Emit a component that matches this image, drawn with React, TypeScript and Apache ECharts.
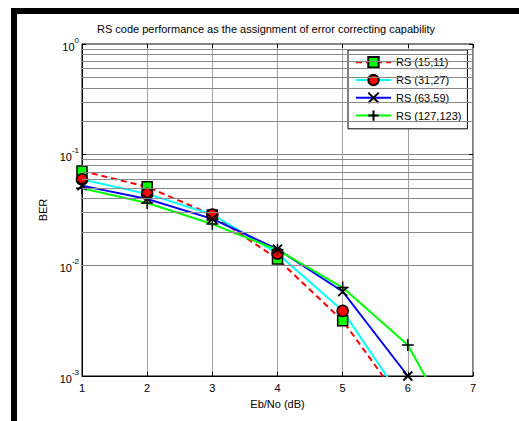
import React, { useEffect, useRef } from "react";
import * as echarts from "echarts";

const xValues = [1, 2, 3, 4, 5, 6, 7];
const seriesNames = ["RS (15,11)", "RS (31,27)", "RS (63,59)", "RS (127,123)"];
const rs15 = [0.0712, 0.0512, 0.0285, 0.0114, 0.00316, 0.00049];
const rs31 = [0.0598, 0.0442, 0.0288, 0.0128, 0.00388, 0.00052];
const rs63 = [0.0525, 0.0398, 0.0263, 0.0140, 0.0058, 0.0010, 0.0002];
const rs127 = [0.0497, 0.0366, 0.0236, 0.0138, 0.0063, 0.00191, 0.000163];
const yTickValues = [0.001, 0.01, 0.1, 1];
const minorMultipliers = [2, 3, 4, 5, 6, 7, 8, 9];

const FONT = "'Liberation Sans', Arial, Helvetica, sans-serif";

const pts = (ys: number[]) => ys.map((y, i) => [xValues[i], y]);

const minorGrid: { yAxis: number }[] = [];
yTickValues.slice(0, -1).forEach((d) => {
  minorMultipliers.forEach((m) => minorGrid.push({ yAxis: d * m }));
});

const X_SYMBOL = "path://M0,0L10,10M10,0L0,10";
const PLUS_SYMBOL = "path://M5,0L5,10M0,5L10,5";

export default function App() {
  const ref = useRef<HTMLDivElement>(null);
  useEffect(() => {
    if (!ref.current) return;
    const chart = echarts.init(ref.current, null, { renderer: "svg" });
    const yLabel = (v: number) => {
      const e = Math.round(Math.log10(v));
      return `{b|10}{s|${e}}`;
    };
    chart.setOption({
      animation: false,
      backgroundColor: "#fff",
      textStyle: { fontFamily: FONT },
      title: {
        text: "RS code performance as the assignment of error correcting capability",
        left: 97,
        top: 23,
        padding: 0,
        textStyle: { fontFamily: FONT, fontSize: 11, fontWeight: "normal", color: "#000" },
      },
      graphic: [
        { type: "rect", shape: { x: 11, y: 8, width: 6, height: 413 }, style: { fill: "#000" } },
        { type: "rect", shape: { x: 11, y: 8, width: 508, height: 6 }, style: { fill: "#000" } },
      ],
      legend: {
        data: seriesNames,
        orient: "vertical",
        left: 348,
        top: 50,
        padding: [6, 6, 7, 7],
        itemWidth: 35,
        itemHeight: 13,
        itemGap: 5.4,
        selectedMode: false,
        backgroundColor: "#fff",
        borderColor: "#000",
        borderWidth: 1,
        borderRadius: 0,
        textStyle: { fontFamily: FONT, fontSize: 11, color: "#000" },
      },
      grid: {
        left: 82,
        top: 44,
        right: 46,
        bottom: 45,
        show: true,
        borderColor: "#000",
        borderWidth: 1,
        backgroundColor: "#fff",
        containLabel: false,
      },
      xAxis: [
        {
          type: "value",
          min: 1,
          max: 7,
          interval: 1,
          name: "Eb/No (dB)",
          nameLocation: "middle",
          nameGap: 22,
          nameTextStyle: { fontFamily: FONT, fontSize: 11, color: "#000" },
          axisLine: { show: true, lineStyle: { color: "#000", width: 1 } },
          axisTick: { show: true, inside: true, length: 4, lineStyle: { color: "#000" } },
          axisLabel: { fontFamily: FONT, fontSize: 11, color: "#000", margin: 6 },
          splitLine: { show: true, lineStyle: { color: "#a0a0a0", width: 1 } },
        },
        {
          type: "value",
          position: "top",
          min: 1,
          max: 7,
          interval: 1,
          axisLine: { show: false },
          axisTick: { show: true, inside: true, length: 4, lineStyle: { color: "#000" } },
          axisLabel: { show: false },
          splitLine: { show: false },
        },
      ],
      yAxis: [
        {
          type: "log",
          logBase: 10,
          min: 0.001,
          max: 1,
          name: "BER",
          nameLocation: "middle",
          nameGap: 27,
          nameTextStyle: { fontFamily: FONT, fontSize: 11, color: "#000" },
          axisLine: { show: true, lineStyle: { color: "#000", width: 1 } },
          axisTick: { show: true, inside: true, length: 4, lineStyle: { color: "#000" } },
          axisLabel: {
            margin: 3,
            formatter: yLabel,
            rich: {
              b: { fontFamily: FONT, fontSize: 11, color: "#000", padding: [5, 0, 0, 0], verticalAlign: "bottom" },
              s: { fontFamily: FONT, fontSize: 8, color: "#000", lineHeight: 8, verticalAlign: "top" },
            },
          },
          splitLine: { show: true, lineStyle: { color: "#888", width: 1 } },
        },
        {
          type: "log",
          logBase: 10,
          min: 0.001,
          max: 1,
          position: "right",
          axisLine: { show: false },
          axisTick: { show: true, inside: true, length: 4, lineStyle: { color: "#000" } },
          axisLabel: { show: false },
          splitLine: { show: false },
        },
      ],
      series: [
        {
          name: "minor-grid",
          type: "line",
          data: [],
          z: 1,
          silent: true,
          markLine: {
            silent: true,
            symbol: ["none", "none"],
            label: { show: false },
            emphasis: { disabled: true },
            lineStyle: { type: "solid", color: "#888", width: 1 },
            data: minorGrid,
          },
        },
        {
          name: seriesNames[0],
          type: "line",
          data: pts(rs15),
          z: 2,
          emphasis: { disabled: true },
          lineStyle: { color: "#ff0000", width: 2, type: [6, 4] },
          symbol: "rect",
          symbolSize: 10,
          itemStyle: { color: "#00ff00", borderColor: "#000", borderWidth: 1.5 },
        },
        {
          name: seriesNames[1],
          type: "line",
          data: pts(rs31),
          z: 2,
          emphasis: { disabled: true },
          lineStyle: { color: "#00ffff", width: 2, type: "solid" },
          symbol: "circle",
          symbolSize: 11,
          itemStyle: { color: "#ff0000", borderColor: "#000", borderWidth: 1.5 },
        },
        {
          name: seriesNames[2],
          type: "line",
          data: pts(rs63),
          z: 2,
          emphasis: { disabled: true },
          lineStyle: { color: "#0000ff", width: 2, type: "solid" },
          symbol: X_SYMBOL,
          symbolSize: 9,
          itemStyle: { color: "#000", borderColor: "#000", borderWidth: 1.8 },
        },
        {
          name: seriesNames[3],
          type: "line",
          data: pts(rs127),
          z: 2,
          emphasis: { disabled: true },
          lineStyle: { color: "#00ff00", width: 2, type: "solid" },
          symbol: PLUS_SYMBOL,
          symbolSize: 12,
          itemStyle: { color: "#000", borderColor: "#000", borderWidth: 1.5 },
        },
      ],
    });
    return () => chart.dispose();
  }, []);
  return (
    <div
      ref={ref}
      style={{ position: "fixed", left: 0, top: 0, width: 519, height: 421 }}
    />
  );
}
